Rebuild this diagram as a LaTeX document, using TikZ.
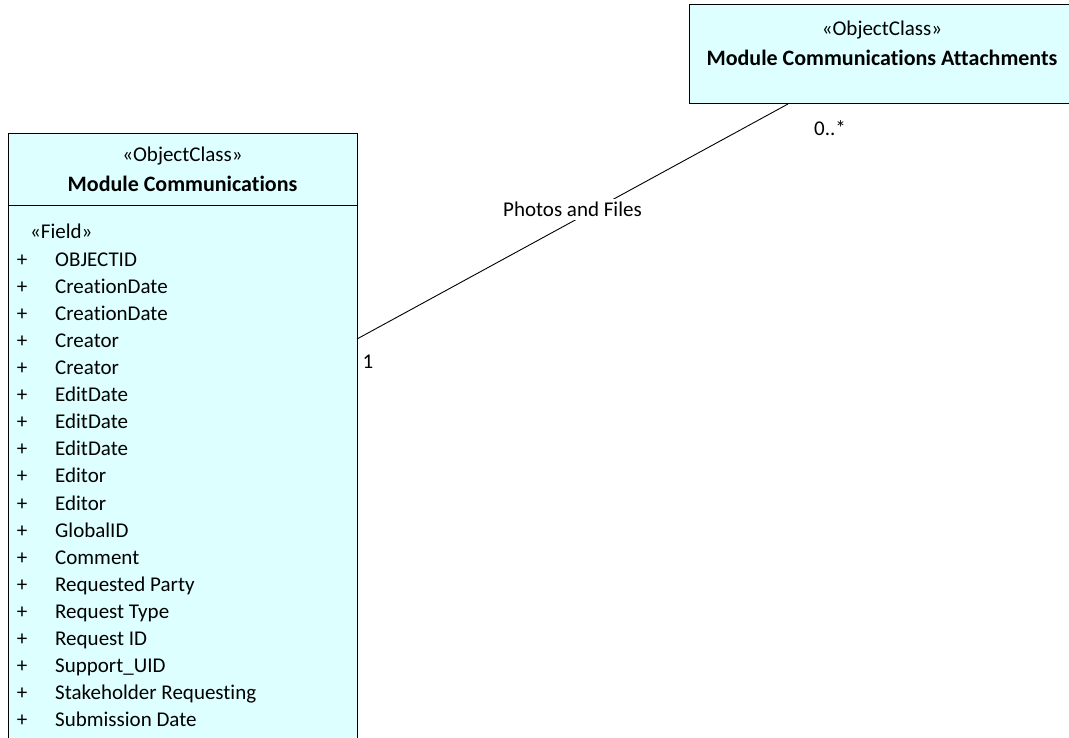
\documentclass[tikz,border=0pt]{standalone}
\usepackage{fontspec}
\setmainfont{Carlito}[Ligatures={NoCommon}]
\usetikzlibrary{positioning}

\definecolor{classfill}{RGB}{221,255,255}

\tikzset{
  classbox/.style={draw=black, fill=classfill, line width=0.9pt, inner sep=0pt},
  umltext/.style={inner sep=0pt, font=\fontsize{21}{25}\selectfont},
  classname/.style={inner sep=0pt, font=\fontsize{22}{26}\selectfont\bfseries},
  fieldtext/.style={umltext, anchor=base west},
  linklabel/.style={umltext, fill=white, inner sep=3pt}
}

\begin{document}
\begin{tikzpicture}[x=1pt, y=-1pt]
  \useasboundingbox (0,0) rectangle (1069,738);
  \clip (0,0) rectangle (1069,738);

  % class boxes
  \node[classbox, anchor=north west, minimum width=349pt, minimum height=640pt] (mc) at (8,133) {};
  \node[classbox, anchor=north west, minimum width=382pt, minimum height=99pt] (mca) at (689,4) {};

  % headers
  \node[umltext] (mcStereo) at (182.5,156) {«ObjectClass»};
  \node[classname] (mcName) at (182.5,184) {Module Communications};
  \draw[line width=0.9pt] (mc.west |- 0,205) -- (mc.east |- 0,205);

  \node[umltext] (mcaStereo) at (882,30) {«ObjectClass»};
  \node[classname] (mcaName) at (882,58) {Module Communications Attachments};

  % fields
  \node[fieldtext] (fieldHead) at (30,239) {«Field»};
  \foreach \fname [count=\i] in {OBJECTID, CreationDate, CreationDate, Creator, Creator,
      EditDate, EditDate, EditDate, Editor, Editor, GlobalID, Comment, Requested Party,
      Request Type, Request ID, Support\_UID, Stakeholder Requesting, Submission Date}{
    \node[umltext, anchor=base] (plus\i) at (22,{239+27.1*\i}) {+};
    \node[fieldtext] (field\i) at (55,{239+27.1*\i}) {\fname};
  }

  % association
  \coordinate (mcEnd) at (357,339);
  \coordinate (mcaEnd) at (788,104);
  \draw[line width=0.9pt] (mcEnd) -- node[linklabel, yshift=12pt] (assocLabel) {Photos and Files} (mcaEnd);
  \node[umltext] (multMc) at (368,362) {1};
  \node[umltext] (multMca) at (830,128) {0..*};
\end{tikzpicture}
\end{document}
